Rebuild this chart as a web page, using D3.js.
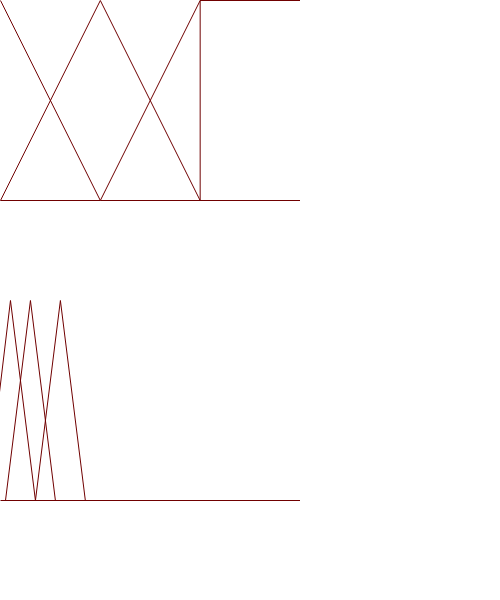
<!DOCTYPE html>
<html>
<head>
<meta charset="utf-8">
<script src="https://cdn.jsdelivr.net/npm/d3@7"></script>
<style>
html, body { margin: 0; padding: 0; background: #fff; }
svg { display: block; }
</style>
</head>
<body>
<script>
// Top panel: membership functions (x in 0..3, membership 0..1)
const topX = [0, 1, 2, 3];
const topLow = [1, 0, 0, 0];
const topMid = [0, 1, 0, 0];
const topHigh = [0, 0, 1, 1];
const topStepX = [2, 2, 3];
const topStep = [0, 1, 1];

// Bottom panel: triangular functions (x in 0..30, membership 0..1)
const botBaseX = [0, 30];
const botBase = [0, 0];
const tri1X = [-1.4, 1, 3.5];
const tri2X = [0.5, 3, 5.5];
const tri3X = [3.5, 6, 8.5];
const triY = [0, 1, 0];

const color = "#700000";
const W = 500, H = 600;
const svg = d3.select("body").append("svg").attr("width", W).attr("height", H);

svg.append("defs").append("clipPath").attr("id", "clipBot")
  .append("rect").attr("x", 0).attr("y", 290).attr("width", 300).attr("height", 220);

// top scales
const xTop = d3.scaleLinear().domain([0, 3]).range([0.5, 300]);
const yTop = d3.scaleLinear().domain([0, 1]).range([200.5, 0.5]);
const lineTop = d3.line().x(d => xTop(d[0])).y(d => yTop(d[1]));

const gTop = svg.append("g").attr("fill", "none").attr("stroke", color).attr("stroke-width", 1);
[topLow, topMid, topHigh].forEach(ys => {
  gTop.append("path").attr("d", lineTop(topX.map((x, i) => [x, ys[i]])));
});
gTop.append("path").attr("d", lineTop(topStepX.map((x, i) => [x, topStep[i]])));

// bottom scales
const xBot = d3.scaleLinear().domain([0, 30]).range([0.5, 300]);
const yBot = d3.scaleLinear().domain([0, 1]).range([500.5, 300.5]);
const lineBot = d3.line().x(d => xBot(d[0])).y(d => yBot(d[1]));

const gBot = svg.append("g").attr("fill", "none").attr("stroke", color).attr("stroke-width", 1)
  .attr("clip-path", "url(#clipBot)");
gBot.append("path").attr("d", lineBot(botBaseX.map((x, i) => [x, botBase[i]])));
[tri1X, tri2X, tri3X].forEach(xs => {
  gBot.append("path").attr("d", lineBot(xs.map((x, i) => [x, triY[i]])));
});
</script>
</body>
</html>
